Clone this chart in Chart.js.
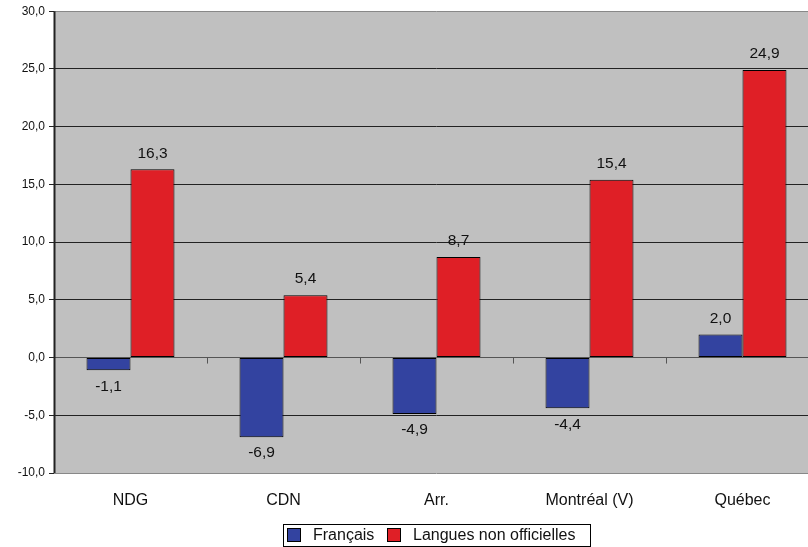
<!DOCTYPE html>
<html>
<head>
<meta charset="utf-8">
<script src="https://cdn.jsdelivr.net/npm/chart.js"></script>
<style>
    html, body { margin: 0; padding: 0; background: #fff; overflow: hidden; }
    #wrap { position: relative; width: 820px; height: 547px; }
</style>
</head>
<body>
<div id="wrap"><canvas id="chart"></canvas></div>
<script>
// data
const categories = ['NDG', 'CDN', 'Arr.', 'Montréal (V)', 'Québec'];
const francais = [-1.1, -6.9, -4.9, -4.4, 2.0];
const languesNonOff = [16.3, 5.4, 8.7, 15.4, 24.9];
const seriesNames = ['Français', 'Langues non officielles'];

const blue = '#3343A0';
const red = '#DF1F26';
const fontFam = '"Liberation Sans", Arial, sans-serif';

const fmt = v => v.toFixed(1).replace('.', ',');

// value labels above / below bars
const valueLabels = {
    id: 'valueLabels',
    afterDatasetsDraw(chart) {
        const ctx = chart.ctx;
        ctx.save();
        ctx.font = '15.5px ' + fontFam;
        ctx.fillStyle = '#111';
        ctx.textAlign = 'center';
        ctx.textBaseline = 'middle';
        chart.data.datasets.forEach((ds, i) => {
            chart.getDatasetMeta(i).data.forEach((bar, j) => {
                const v = ds.data[j];
                const y = v >= 0 ? bar.y - 16 : bar.y + 16;
                ctx.fillText(fmt(v), bar.x, y);
            });
        });
        ctx.restore();
    }
};

// zero axis tick marks, left axis and boxed legend
const frame = {
    id: 'frame',
    beforeDatasetsDraw(chart) {
        const ctx = chart.ctx;
        const area = chart.chartArea;
        const xs = chart.scales.x;
        const y0 = chart.scales.y.getPixelForValue(0);
        ctx.save();
        ctx.strokeStyle = '#555';
        ctx.lineWidth = 1;
        const step = xs.width / categories.length;
        for (let i = 1; i < categories.length; i++) {
            const x = Math.round(area.left + step * i) + 0.5;
            ctx.beginPath();
            ctx.moveTo(x, y0);
            ctx.lineTo(x, y0 + 6);
            ctx.stroke();
        }
        ctx.restore();
    },
    afterDraw(chart) {
        const ctx = chart.ctx;
        const area = chart.chartArea;
        ctx.save();
        // left axis
        ctx.strokeStyle = '#222';
        ctx.lineWidth = 2;
        ctx.beginPath();
        ctx.moveTo(area.left + 0.5, area.top);
        ctx.lineTo(area.left + 0.5, area.bottom);
        ctx.stroke();

        // legend
        const lx = 283, ly = 524, lw = 307, lh = 22;
        ctx.fillStyle = '#fff';
        ctx.fillRect(lx, ly, lw, lh);
        ctx.strokeStyle = '#000';
        ctx.lineWidth = 1;
        ctx.strokeRect(lx + 0.5, ly + 0.5, lw, lh);
        ctx.font = '16px ' + fontFam;
        ctx.textBaseline = 'middle';
        const items = [
            { x: 287, color: blue, text: seriesNames[0] },
            { x: 387, color: red, text: seriesNames[1] }
        ];
        items.forEach(it => {
            ctx.fillStyle = it.color;
            ctx.fillRect(it.x + 0.5, ly + 4.5, 13, 13);
            ctx.strokeStyle = '#000';
            ctx.strokeRect(it.x + 0.5, ly + 4.5, 13, 13);
            ctx.fillStyle = '#111';
            ctx.fillText(it.text, it.x + 26, ly + 12);
        });
        ctx.restore();
    }
};

const plotBg = {
    id: 'plotBg',
    beforeDraw(chart) {
        const a = chart.chartArea;
        chart.ctx.save();
        chart.ctx.fillStyle = '#C0C0C0';
        chart.ctx.fillRect(a.left, a.top, a.right - a.left, a.bottom - a.top);
        chart.ctx.restore();
    }
};

new Chart(document.getElementById('chart'), {
    type: 'bar',
    data: {
        labels: categories,
        datasets: [{
            label: seriesNames[0],
            data: francais,
            backgroundColor: blue,
            borderColor: '#000',
            borderWidth: 1,
            borderSkipped: false
        }, {
            label: seriesNames[1],
            data: languesNonOff,
            backgroundColor: red,
            borderColor: '#000',
            borderWidth: 1,
            borderSkipped: false
        }]
    },
    options: {
        responsive: true,
        maintainAspectRatio: false,
        animation: false,
        layout: { padding: { top: 11, right: 1, bottom: 0, left: 0 } },
        datasets: { bar: { categoryPercentage: 0.575, barPercentage: 1 } },
        plugins: {
            legend: { display: false },
            tooltip: { enabled: false }
        },
        scales: {
            y: {
                min: -10,
                max: 30,
                afterFit: s => { s.width = 54; },
                ticks: {
                    stepSize: 5,
                    color: '#111',
                    padding: 4,
                    font: { family: fontFam, size: 12 },
                    callback: v => fmt(v)
                },
                grid: {
                    color: ctx => {
                        const v = ctx.tick ? ctx.tick.value : 0;
                        if (v === 30 || v === -10) return '#888';
                        if (v === 0) return '#555';
                        return '#222';
                    },
                    tickColor: '#222',
                    tickLength: 5
                },
                border: { display: false }
            },
            x: {
                afterFit: s => { s.height = 74; },
                ticks: {
                    color: '#111',
                    padding: 18,
                    font: { family: fontFam, size: 16 }
                },
                grid: { display: false, drawTicks: false },
                border: { display: false }
            }
        }
    },
    plugins: [plotBg, valueLabels, frame]
});
</script>
</body>
</html>
